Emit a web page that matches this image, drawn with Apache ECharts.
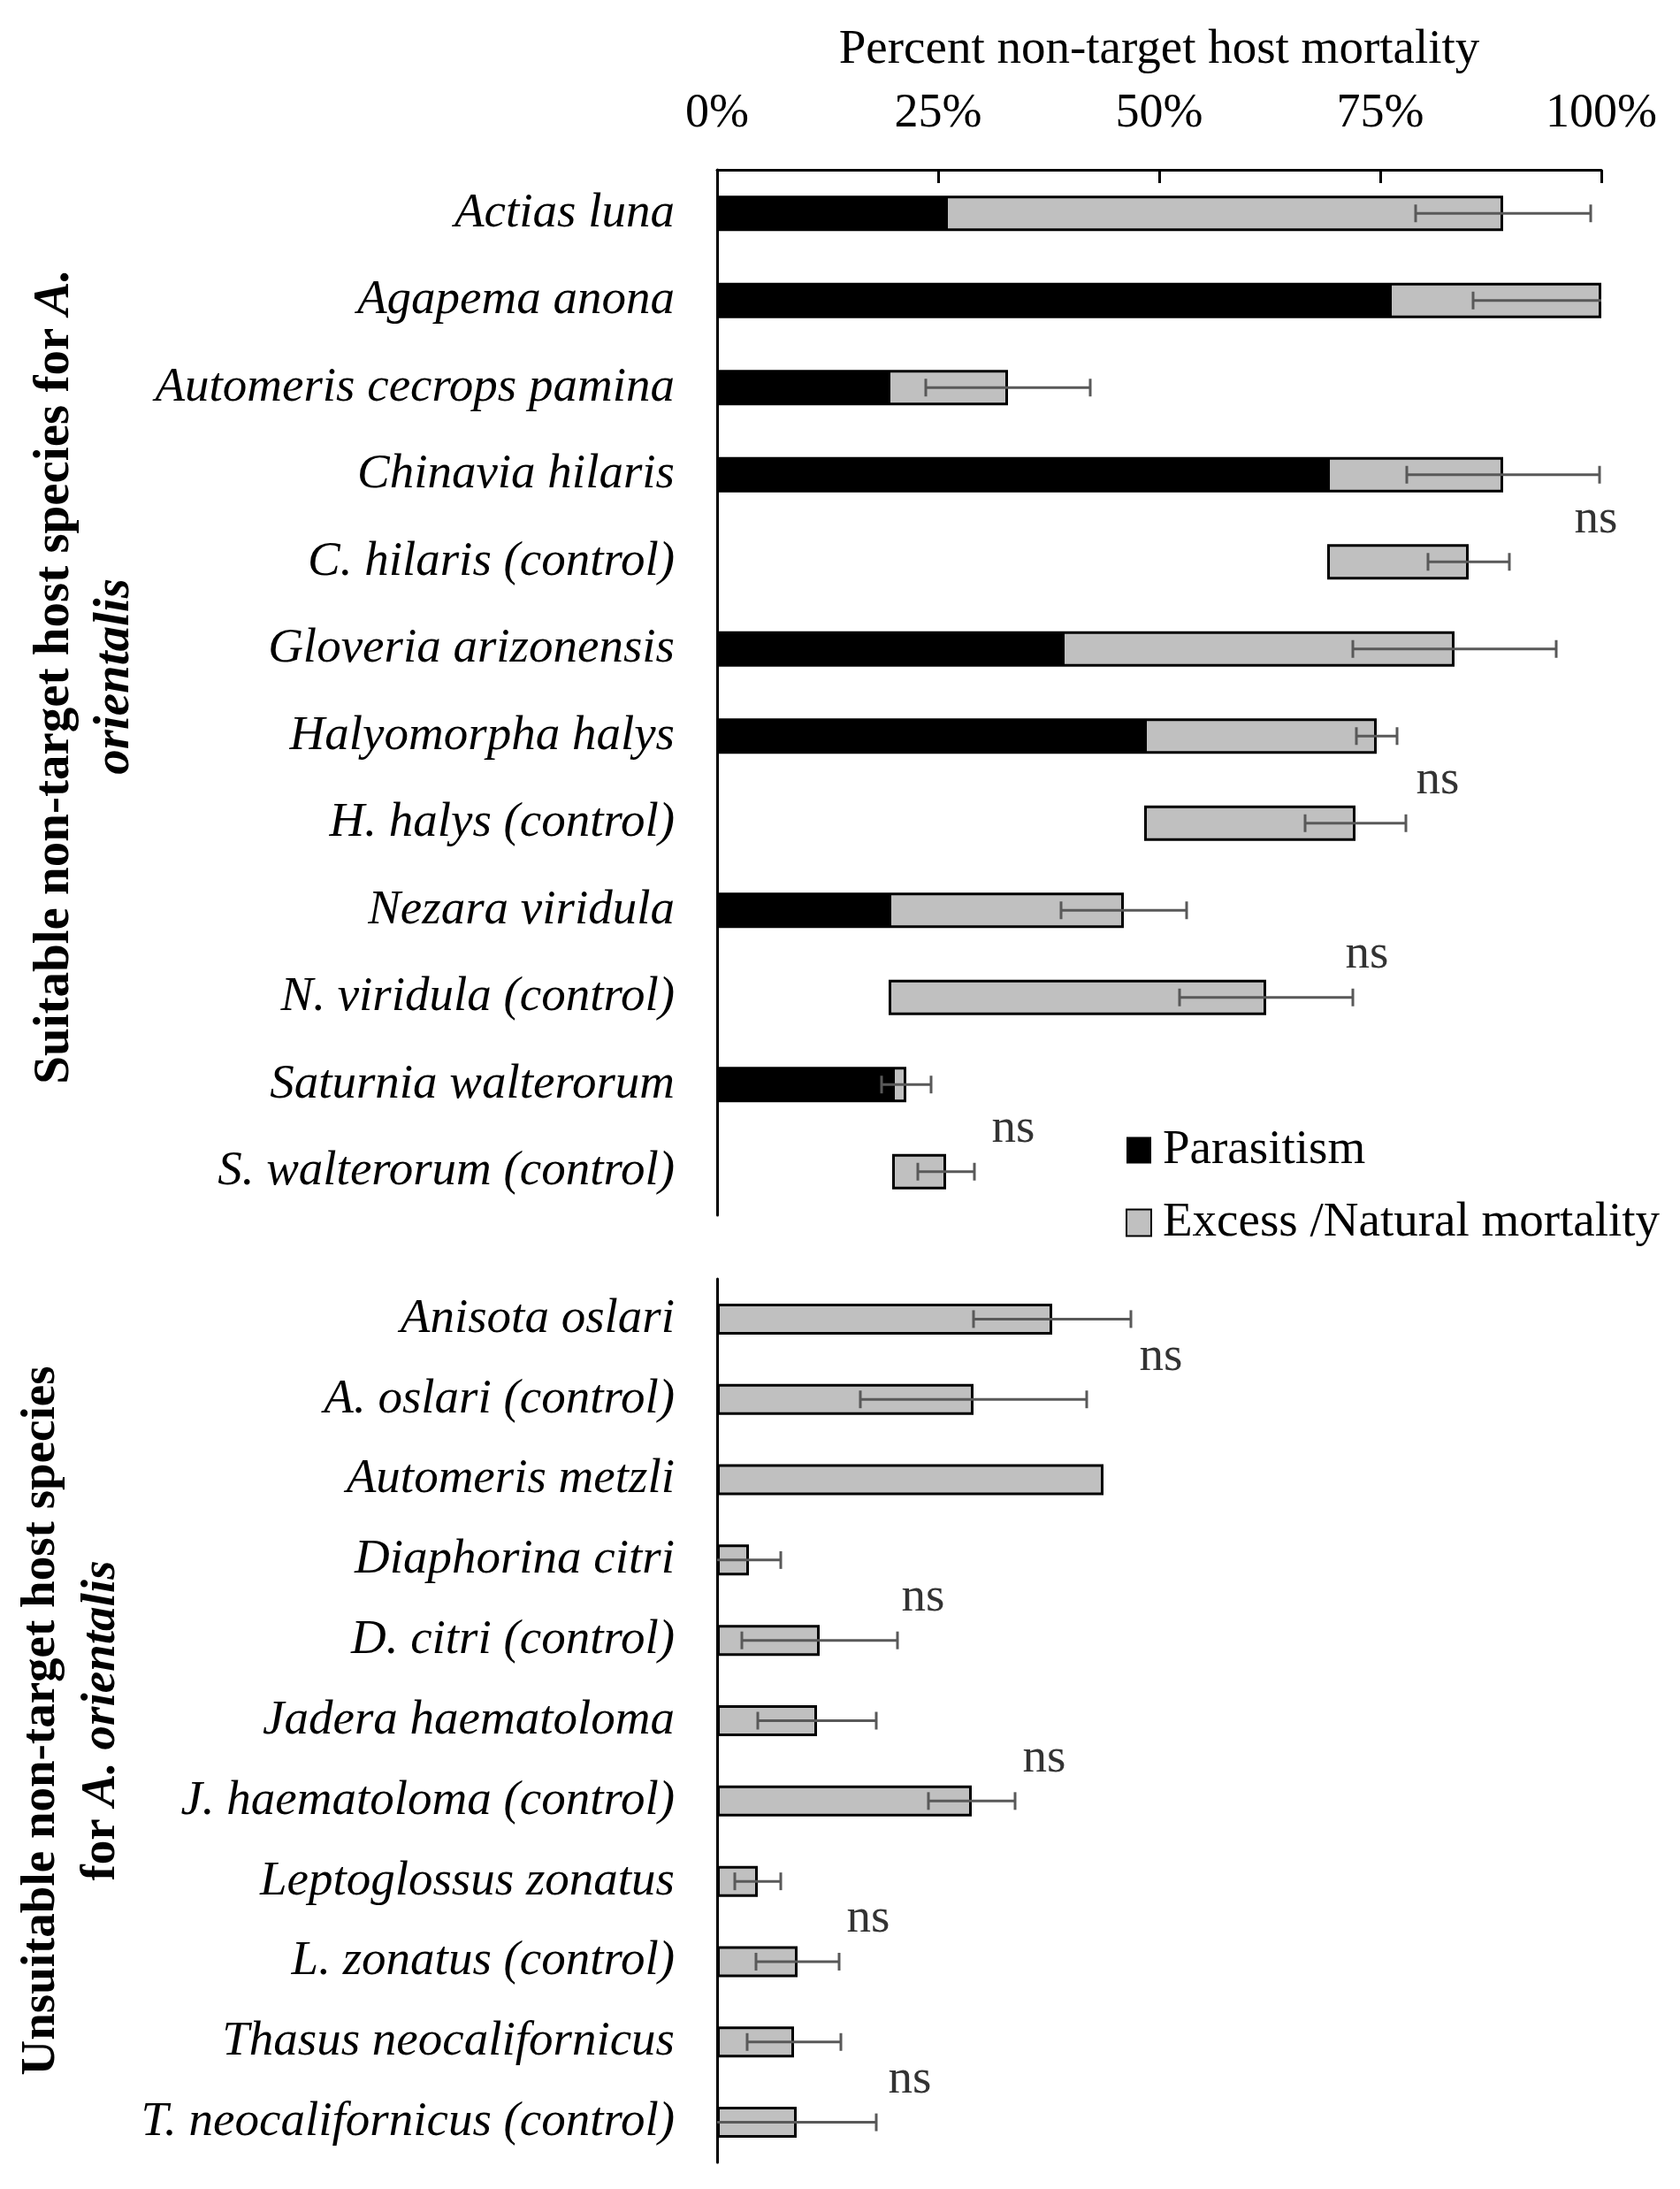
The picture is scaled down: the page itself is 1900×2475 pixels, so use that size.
<!DOCTYPE html>
<html>
<head>
<meta charset="utf-8">
<script src="https://cdn.jsdelivr.net/npm/echarts@6/dist/echarts.min.js"></script>
<style>
  html, body { margin: 0; padding: 0; background: #ffffff; }
  #chart { width: 1900px; height: 2475px; }
</style>
</head>
<body>
<div id="chart"></div>
<script>
// ---------- data ----------
const topCategories = [
  'Actias luna', 'Agapema anona', 'Automeris cecrops pamina', 'Chinavia hilaris',
  'C. hilaris (control)', 'Gloveria arizonensis', 'Halyomorpha halys', 'H. halys (control)',
  'Nezara viridula', 'N. viridula (control)', 'Saturnia walterorum', 'S. walterorum (control)'
];
const topBase        = [0, 0, 0, 0, 69.0, 0, 0, 48.3, 0, 19.4, 0, 19.8];
const topParasitism  = [25.8, 76.0, 19.3, 69.0, 0, 39.0, 48.3, 0, 19.4, 0, 19.8, 0];
const topExcess      = [63.1, 24.0, 13.6, 19.9, 16.0, 44.4, 26.3, 23.9, 26.6, 42.7, 1.6, 6.1];
const topError       = [9.9, 14.5, 9.3, 10.9, 4.6, 11.5, 2.3, 5.7, 7.1, 9.8, 2.8, 3.2];

const bottomCategories = [
  'Anisota oslari', 'A. oslari (control)', 'Automeris metzli', 'Diaphorina citri',
  'D. citri (control)', 'Jadera haematoloma', 'J. haematoloma (control)', 'Leptoglossus zonatus',
  'L. zonatus (control)', 'Thasus neocalifornicus', 'T. neocalifornicus (control)'
];
const bottomExcess = [37.9, 29.0, 43.7, 3.6, 11.6, 11.3, 28.8, 4.6, 9.1, 8.7, 9.0];
const bottomError  = [8.9, 12.8, 0, 3.6, 8.8, 6.7, 4.9, 2.6, 4.7, 5.3, 9.0];

const topNsCategories = ['C. hilaris (control)', 'H. halys (control)', 'N. viridula (control)', 'S. walterorum (control)'];
const topNsX = [99.4, 81.5, 73.5, 33.5];
const bottomNsCategories = ['A. oslari (control)', 'D. citri (control)', 'J. haematoloma (control)', 'L. zonatus (control)', 'T. neocalifornicus (control)'];
const bottomNsX = [50.2, 23.3, 37.0, 17.1, 21.8];

const xTicks = [0, 25, 50, 75, 100];

// ---------- styles ----------
const FONT = 'Liberation Serif';
const GRAY = '#c0c0c0';
const ERR = '#595959';

const topTotals = topCategories.map((_, i) => topBase[i] + topParasitism[i] + topExcess[i]);
const topErrData = topCategories.map((_, i) => [i, topTotals[i], topError[i]]);
const bottomErrData = bottomCategories.map((_, i) => [i, bottomExcess[i], bottomError[i]]);

function renderErr(params, api) {
  const cat = api.value(0), total = api.value(1), err = api.value(2);
  if (!err) return null;
  const loRaw = total - err, hiRaw = total + err;
  const lo = Math.max(xTicks[0], loRaw), hi = Math.min(xTicks[xTicks.length - 1], hiRaw);
  const p1 = api.coord([lo, cat]);
  const p2 = api.coord([hi, cat]);
  const style = { stroke: ERR, lineWidth: 3 };
  const cap = 10;
  const children = [{ type: 'line', shape: { x1: p1[0], y1: p1[1], x2: p2[0], y2: p2[1] }, style }];
  if (loRaw > xTicks[0]) children.push({ type: 'line', shape: { x1: p1[0], y1: p1[1] - cap, x2: p1[0], y2: p1[1] + cap }, style });
  if (hiRaw < xTicks[xTicks.length - 1]) children.push({ type: 'line', shape: { x1: p2[0], y1: p2[1] - cap, x2: p2[0], y2: p2[1] + cap }, style });
  return { type: 'group', children };
}

const nsLabel = {
  show: true, formatter: 'ns', position: 'inside', offset: [0, -48],
  fontFamily: FONT, fontSize: 55, color: '#000'
};

const catLabel = { fontFamily: FONT, fontSize: 55, fontStyle: 'italic', color: '#000', margin: 48 };
function titleStyle(size, padding) {
  return {
    fontFamily: FONT, fontSize: size, fontWeight: 'bold', color: '#000', lineHeight: 68, align: 'center',
    padding: padding,
    rich: { bi: { fontFamily: FONT, fontSize: size, fontWeight: 'bold', fontStyle: 'italic', color: '#000', lineHeight: 68 } }
  };
}

const option = {
  backgroundColor: '#ffffff',
  animation: false,
  grid: [
    { left: 811, width: 1000, top: 192, height: 1182 },
    { left: 811, width: 1000, top: 1446, height: 999 }
  ],
  legend: {
    orient: 'vertical', left: 1268, top: 1268,
    itemWidth: 28, itemHeight: 30, itemGap: 27,
    selectedMode: false,
    textStyle: { fontFamily: FONT, fontSize: 55, color: '#000', padding: [0, 0, 0, 8] },
    data: [{ name: 'Parasitism', icon: 'rect' }, { name: 'Excess /Natural mortality', icon: 'rect' }]
  },
  xAxis: [
    {
      gridIndex: 0, type: 'value', position: 'top', min: xTicks[0], max: xTicks[xTicks.length - 1], interval: 25,
      name: 'Percent non-target host mortality', nameLocation: 'middle', nameGap: 108,
      nameTextStyle: { fontFamily: FONT, fontSize: 55, color: '#000' },
      axisLine: { show: true, lineStyle: { color: '#000', width: 3 } },
      axisTick: { show: true, inside: true, length: 15, lineStyle: { color: '#000', width: 3 } },
      axisLabel: { formatter: '{value}%', fontFamily: FONT, fontSize: 54, color: '#000', margin: 36 },
      splitLine: { show: false }
    },
    {
      gridIndex: 1, type: 'value', min: xTicks[0], max: xTicks[xTicks.length - 1], interval: 25, show: false,
      splitLine: { show: false }
    }
  ],
  yAxis: [
    {
      gridIndex: 0, type: 'category', inverse: true, data: topCategories,
      axisLine: { show: true, lineStyle: { color: '#000', width: 3 } },
      axisTick: { show: false },
      axisLabel: catLabel,
      name: 'Suitable non-target host species for {bi|A.}\n{bi|orientalis}',
      nameLocation: 'middle', nameRotate: 90, nameGap: 640,
      nameTextStyle: titleStyle(57, [0, 0, 0, 36])
    },
    {
      gridIndex: 1, type: 'category', inverse: true, data: bottomCategories,
      axisLine: { show: true, lineStyle: { color: '#000', width: 3 } },
      axisTick: { show: false },
      axisLabel: catLabel,
      name: 'Unsuitable non-target host species\nfor {bi|A. orientalis}',
      nameLocation: 'middle', nameRotate: 90, nameGap: 656,
      nameTextStyle: titleStyle(55, [0, 0, 0, 0])
    }
  ],
  series: [
    {
      name: 'base', type: 'bar', xAxisIndex: 0, yAxisIndex: 0, stack: 'top', barWidth: 40,
      data: topBase, itemStyle: { color: 'rgba(0,0,0,0)' }, silent: true
    },
    {
      name: 'Parasitism', type: 'bar', xAxisIndex: 0, yAxisIndex: 0, stack: 'top', barWidth: 40,
      data: topParasitism, itemStyle: { color: '#000' }
    },
    {
      name: 'Excess /Natural mortality', type: 'bar', xAxisIndex: 0, yAxisIndex: 0, stack: 'top', barWidth: 40,
      data: topExcess, itemStyle: { color: GRAY, borderColor: '#000', borderWidth: 3 }
    },
    {
      name: 'Excess /Natural mortality', type: 'bar', xAxisIndex: 1, yAxisIndex: 1, barWidth: 35,
      data: bottomExcess, itemStyle: { color: GRAY, borderColor: '#000', borderWidth: 3 }
    },
    {
      name: 'errTop', type: 'custom', xAxisIndex: 0, yAxisIndex: 0, renderItem: renderErr,
      data: topErrData, encode: { x: 1, y: 0 }, z: 5, silent: true
    },
    {
      name: 'errBottom', type: 'custom', xAxisIndex: 1, yAxisIndex: 1, renderItem: renderErr,
      data: bottomErrData, encode: { x: 1, y: 0 }, z: 5, silent: true
    },
    {
      name: 'nsTop', type: 'scatter', xAxisIndex: 0, yAxisIndex: 0, symbolSize: 0,
      data: topNsCategories.map((c, i) => [topNsX[i], c]), label: nsLabel, silent: true
    },
    {
      name: 'nsBottom', type: 'scatter', xAxisIndex: 1, yAxisIndex: 1, symbolSize: 0,
      data: bottomNsCategories.map((c, i) => [bottomNsX[i], c]), label: nsLabel, silent: true
    }
  ]
};

const chart = echarts.init(document.getElementById('chart'), null, { renderer: 'canvas' });
chart.setOption(option);
</script>
</body>
</html>
